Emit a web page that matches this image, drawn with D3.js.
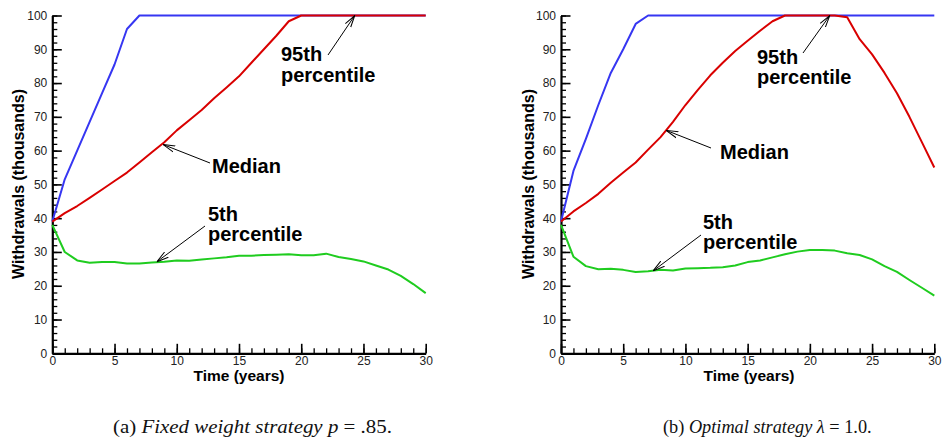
<!DOCTYPE html>
<html>
<head>
<meta charset="utf-8">
<script src="https://cdn.jsdelivr.net/npm/d3@7"></script>
<style>
  body { margin: 0; background: #fff; }
  svg { display: block; font-family: "Liberation Sans", Arial, sans-serif; }
  .axis path, .axis line { stroke: #000; }
  .axis text { font-size: 12px; fill: #222; }
</style>
</head>
<body>
<svg id="chart" width="942" height="439"></svg>
<script>
// years 0..30
const years = [0, 1, 2, 3, 4, 5, 6, 7, 8, 9, 10, 11, 12, 13, 14, 15, 16, 17, 18, 19, 20, 21, 22, 23, 24, 25, 26, 27, 28, 29, 30];

// (a) fixed weight strategy
const fixedP95 = [39, 51.5, 60, 68.5, 77, 85.5, 96, 100, 100, 100, 100, 100, 100, 100, 100, 100, 100, 100, 100, 100, 100, 100, 100, 100, 100, 100, 100, 100, 100, 100, 100];
const fixedMedian = [39, 41.5, 43.6, 46, 48.5, 51, 53.5, 56.5, 59.5, 62.5, 66, 69, 72, 75.5, 78.7, 82, 86, 90, 94, 98.3, 100, 100, 100, 100, 100, 100, 100, 100, 100, 100, 100];
const fixedP5 = [38, 30, 27.5, 26.8, 27, 27, 26.6, 26.6, 26.9, 27.1, 27.5, 27.4, 27.8, 28.1, 28.4, 28.9, 28.9, 29.1, 29.2, 29.3, 29, 29, 29.5, 28.5, 27.9, 27.2, 26, 24.8, 22.9, 20.5, 17.8];

// (b) optimal strategy
const optP95 = [39, 54, 63.5, 73.5, 83, 90, 97.5, 100, 100, 100, 100, 100, 100, 100, 100, 100, 100, 100, 100, 100, 100, 100, 100, 100, 100, 100, 100, 100, 100, 100, 100];
const optMedian = [39, 42, 44.5, 47.2, 50.5, 53.5, 56.5, 60.3, 64, 68.5, 73.5, 78, 82.3, 86, 89.5, 92.5, 95.5, 98.3, 100, 100, 100, 100, 100, 99.5, 93, 88.5, 83, 77, 70, 62.5, 55];
const optP5 = [38, 28.6, 25.8, 24.9, 25, 24.7, 24.1, 24.3, 24.7, 24.5, 25.1, 25.2, 25.3, 25.5, 26, 27, 27.5, 28.4, 29.3, 30.1, 30.6, 30.6, 30.4, 29.6, 29.1, 27.8, 25.8, 24.1, 21.7, 19.4, 17.1];

const xMajorTicks = [0, 5, 10, 15, 20, 25, 30];
const yMajorTicks = [0, 10, 20, 30, 40, 50, 60, 70, 80, 90, 100];

const colors = { p95: "#3636f2", median: "#d90000", p5: "#1fcc1f" };

const svg = d3.select("#chart");

const defs = svg.append("defs");
defs.append("marker")
  .attr("id", "arrowhead")
  .attr("viewBox", "0 -5 12 10")
  .attr("refX", 12)
  .attr("refY", 0)
  .attr("markerUnits", "userSpaceOnUse")
  .attr("markerWidth", 12)
  .attr("markerHeight", 10)
  .attr("orient", "auto")
  .append("path")
  .attr("d", "M0,-3.2L12,0L0,3.2")
  .attr("fill", "none")
  .attr("stroke", "#000")
  .attr("stroke-width", 1);

const panels = [
  {
    x0: 52.3, x1: 425.7,
    p95: fixedP95, median: fixedMedian, p5: fixedP5,
    yTitleX: 18, xTitleX: 239,
    notes: [
      { lines: ["95th", "percentile"], tx: 281, ty: 61, from: [328, 55], tip: [24.3, 100] },
      { lines: ["Median"], tx: 212, ty: 173, from: [210, 163], tip: [8.9, 61.8] },
      { lines: ["5th", "percentile"], tx: 208, ty: 220.5, from: [205, 226], tip: [8.4, 27.1] }
    ],
    caption: [["(a) ", "normal"], ["Fixed weight strategy ", "italic"], ["p", "italic"], [" = .85.", "normal"]],
    capX: 113, capW: 279, capSize: 19
  },
  {
    x0: 561, x1: 934.3,
    p95: optP95, median: optMedian, p5: optP5,
    yTitleX: 528, xTitleX: 749,
    notes: [
      { lines: ["95th", "percentile"], tx: 757, ty: 63.5, from: [803, 53], tip: [21.6, 100] },
      { lines: ["Median"], tx: 720, ty: 159, from: [711, 148], tip: [8.45, 66] },
      { lines: ["5th", "percentile"], tx: 703, ty: 228.5, from: [701, 235], tip: [7.4, 24.4] }
    ],
    caption: [["(b) ", "normal"], ["Optimal strategy ", "italic"], ["λ", "italic"], [" = 1.0.", "normal"]],
    capX: 663, capW: null, capSize: 18.3
  }
];

const yTop = 15.5, yBottom = 353.3;

panels.forEach(p => {
  const x = d3.scaleLinear().domain([0, 30]).range([p.x0, p.x1]);
  const y = d3.scaleLinear().domain([0, 100]).range([yBottom, yTop]);
  const g = svg.append("g");

  // minor ticks
  g.append("g")
    .attr("class", "axis")
    .attr("transform", "translate(0," + yBottom + ")")
    .call(d3.axisBottom(x).tickValues(d3.range(0, 31, 1)).tickSize(-5).tickSizeOuter(0).tickFormat(""))
    .call(a => a.select(".domain").remove())
    .selectAll("line").attr("stroke-width", 1.3);

  g.append("g")
    .attr("class", "axis")
    .attr("transform", "translate(" + p.x0 + ",0)")
    .call(d3.axisLeft(y).tickValues(d3.range(0, 101, 2)).tickSize(-5).tickSizeOuter(0).tickFormat(""))
    .call(a => a.select(".domain").remove())
    .selectAll("line").attr("stroke-width", 1.3);

  // major ticks + labels
  const xa = g.append("g")
    .attr("class", "axis")
    .attr("transform", "translate(0," + yBottom + ")")
    .call(d3.axisBottom(x).tickValues(xMajorTicks).tickSize(-9.5).tickSizeOuter(0).tickPadding(3));
  xa.select(".domain").attr("stroke-width", 2.2);
  xa.selectAll("line").attr("stroke-width", 1.6);

  const ya = g.append("g")
    .attr("class", "axis")
    .attr("transform", "translate(" + p.x0 + ",0)")
    .call(d3.axisLeft(y).tickValues(yMajorTicks).tickSize(-9.5).tickSizeOuter(0).tickPadding(5));
  ya.select(".domain").attr("stroke-width", 2.2);
  ya.selectAll("line").attr("stroke-width", 1.6);

  // axis titles
  g.append("text")
    .attr("transform", "translate(" + p.yTitleX + "," + 184 + ") rotate(-90)")
    .attr("text-anchor", "middle")
    .attr("dy", "0.35em")
    .attr("font-size", 16)
    .attr("font-weight", "bold")
    .text("Withdrawals (thousands)");

  g.append("text")
    .attr("x", p.xTitleX)
    .attr("y", 381)
    .attr("text-anchor", "middle")
    .attr("font-size", 15.5)
    .attr("font-weight", "bold")
    .text("Time (years)");

  // lines
  const line = d3.line().x((d, i) => x(years[i])).y(d => y(d));
  [["p95", p.p95], ["median", p.median], ["p5", p.p5]].forEach(([k, vals]) => {
    g.append("path")
      .datum(vals)
      .attr("fill", "none")
      .attr("stroke", colors[k])
      .attr("stroke-width", 2)
      .attr("stroke-linejoin", "round")
      .attr("d", line);
  });

  // annotations
  p.notes.forEach(n => {
    g.append("line")
      .attr("x1", n.from[0]).attr("y1", n.from[1])
      .attr("x2", x(n.tip[0])).attr("y2", y(n.tip[1]))
      .attr("stroke", "#000")
      .attr("stroke-width", 1)
      .attr("marker-end", "url(#arrowhead)");
    const t = g.append("text")
      .attr("font-size", 20)
      .attr("font-weight", "bold")
      .attr("fill", "#000");
    n.lines.forEach((s, i) => {
      t.append("tspan").attr("x", n.tx).attr("y", n.ty + i * 20.8).text(s);
    });
  });

  // caption
  const c = g.append("text")
    .attr("x", p.capX)
    .attr("y", 433)
    .attr("font-family", "'Liberation Serif', 'DejaVu Serif', serif")
    .attr("font-size", p.capSize)
    .attr("fill", "#111");
  if (p.capW) c.attr("textLength", p.capW).attr("lengthAdjust", "spacingAndGlyphs");
  p.caption.forEach(([s, st]) => {
    c.append("tspan").attr("font-style", st).text(s);
  });
});
</script>
</body>
</html>
